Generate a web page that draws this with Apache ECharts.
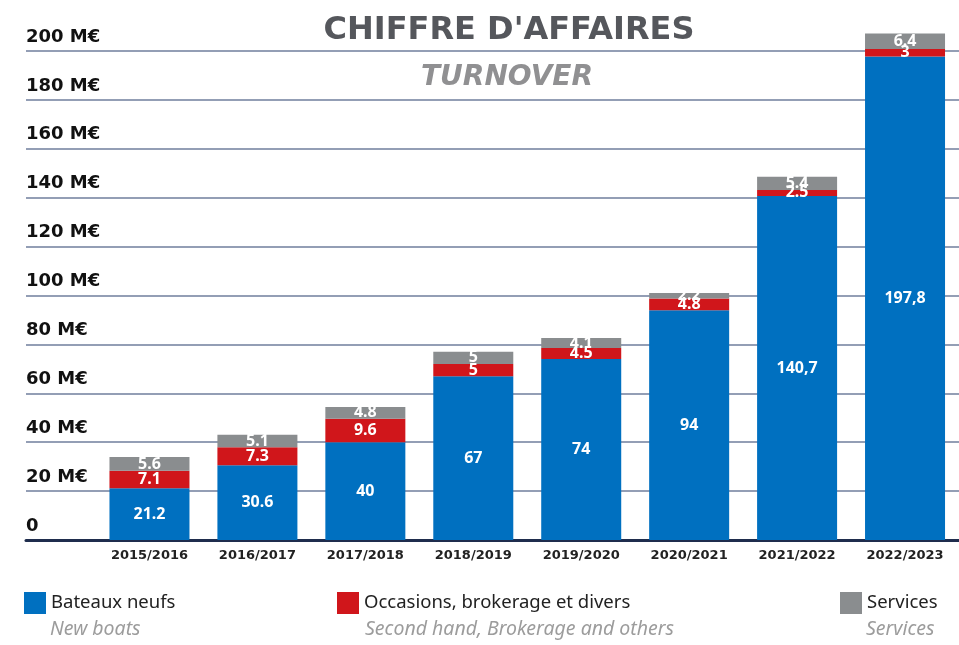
<!DOCTYPE html>
<html>
<head>
<meta charset="utf-8">
<script src="https://cdn.jsdelivr.net/npm/echarts@6/dist/echarts.min.js"></script>
<style>
  html, body { margin: 0; padding: 0; background: #fff; }
  #main { width: 959px; height: 645px; }
</style>
</head>
<body>
<div id="main"></div>
<script>
var dom = document.getElementById("main");
var myChart = echarts.init(dom);

// chiffre d'affaires par exercice, en M€
var categories = ['2015/2016', '2016/2017', '2017/2018', '2018/2019', '2019/2020', '2020/2021', '2021/2022', '2022/2023'];
var newBoats = [21.2, 30.6, 40, 67, 74, 94, 140.7, 197.8];
var newBoatsText = ['21.2', '30.6', '40', '67', '74', '94', '140,7', '197,8'];
var secondHand = [7.1, 7.3, 9.6, 5, 4.5, 4.8, 2.5, 3];
var services = [5.6, 5.1, 4.8, 5, 4.1, 2.2, 5.4, 6.4];
var yTicks = [0, 20, 40, 60, 80, 100, 120, 140, 160, 180, 200];

var seriesNames = ['Bateaux neufs', 'Occasions, brokerage et divers', 'Services'];
var seriesNamesEn = ['New boats', 'Second hand, Brokerage and others', 'Services'];
var myColor = ['#0070c0', '#d0161b', '#8a8d8f'];

var fontNoto = '"Noto Sans", sans-serif';
var fontWide = '"DejaVu Sans", sans-serif';

var barLabel = {
    show: true,
    position: 'inside',
    color: '#fff',
    fontSize: 16,
    fontWeight: 'bold',
    fontFamily: fontNoto
};

option = {
    backgroundColor: '#fff',
    animation: false,
    title: [{
        text: "CHIFFRE D'AFFAIRES",
        left: 504,
        top: 10,
        textAlign: 'center',
        textStyle: { color: '#55575c', fontSize: 32, fontWeight: 'bold', fontFamily: fontWide }
    }, {
        text: 'TURNOVER',
        left: 502,
        top: 59,
        textAlign: 'center',
        textStyle: { color: '#909092', fontSize: 28, fontWeight: 'bold', fontStyle: 'italic', fontFamily: fontWide }
    }],
    // grille de fond (lignes + libellés M€) et grille des barres
    grid: [
        { left: 26, right: 0, top: 51, bottom: 105 },
        { left: 95.5, right: -7.5, top: 51, bottom: 105 }
    ],
    xAxis: [{
        gridIndex: 0,
        type: 'value',
        min: 0,
        max: 1,
        axisLine: { show: true, lineStyle: { color: '#1f2d4d', width: 3 } },
        axisTick: { show: false },
        axisLabel: { show: false },
        splitLine: { show: false }
    }, {
        gridIndex: 1,
        type: 'category',
        data: categories,
        axisLine: { show: false },
        axisTick: { show: false },
        axisLabel: {
            margin: 9,
            color: '#222',
            fontSize: 13,
            fontWeight: 'bold',
            fontFamily: fontWide
        }
    }],
    yAxis: [{
        gridIndex: 0,
        type: 'value',
        min: yTicks[0],
        max: yTicks[yTicks.length - 1],
        interval: 20,
        axisLine: { show: false },
        axisTick: { show: false },
        splitLine: { lineStyle: { color: '#6f7e9c', width: 1.5 } },
        axisLabel: {
            inside: true,
            margin: 0,
            align: 'left',
            verticalAlign: 'bottom',
            padding: [0, 0, 5, 0],
            color: '#111',
            fontSize: 18,
            fontWeight: 'bold',
            fontFamily: fontWide,
            formatter: function (v) {
                return v === 0 ? '0' : v + ' M€';
            }
        }
    }, {
        gridIndex: 1,
        type: 'value',
        min: 0,
        max: 200,
        show: false
    }],
    legend: [0, 1, 2].map(function (i) {
        return {
            data: [seriesNames[i]],
            left: [24, 337, 840][i],
            top: 592,
            padding: 0,
            itemWidth: 22,
            itemHeight: 22,
            icon: 'rect',
            selectedMode: false,
            textStyle: { color: '#222', fontSize: 18.5, fontFamily: fontNoto }
        };
    }),
    graphic: [0, 1, 2].map(function (i) {
        return {
            type: 'text',
            left: [50, 365, 866][i],
            top: 619,
            style: {
                text: seriesNamesEn[i],
                fill: '#9c9c9c',
                fontSize: 19.5,
                fontStyle: 'italic',
                fontFamily: fontNoto
            }
        };
    }),
    series: [{
        name: seriesNames[0],
        type: 'bar',
        stack: 'ca',
        xAxisIndex: 1,
        yAxisIndex: 1,
        barWidth: 80,
        clip: false,
        itemStyle: { color: myColor[0] },
        label: Object.assign({}, barLabel, {
            formatter: function (p) { return newBoatsText[p.dataIndex]; }
        }),
        data: newBoats
    }, {
        name: seriesNames[1],
        type: 'bar',
        stack: 'ca',
        xAxisIndex: 1,
        yAxisIndex: 1,
        barWidth: 80,
        clip: false,
        itemStyle: { color: myColor[1] },
        label: barLabel,
        data: secondHand
    }, {
        name: seriesNames[2],
        type: 'bar',
        stack: 'ca',
        xAxisIndex: 1,
        yAxisIndex: 1,
        barWidth: 80,
        clip: false,
        itemStyle: { color: myColor[2] },
        label: barLabel,
        data: services
    }]
};
myChart.setOption(option);
</script>
</body>
</html>
